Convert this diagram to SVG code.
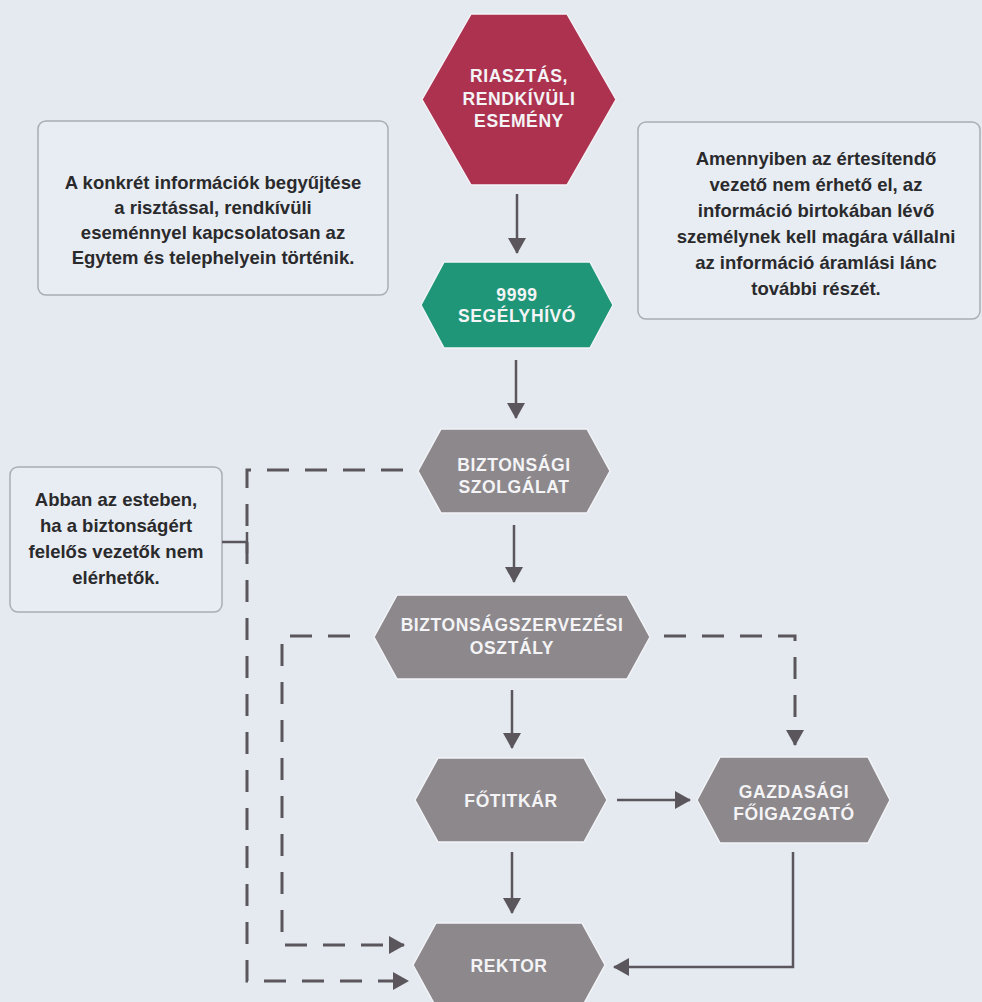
<svg xmlns="http://www.w3.org/2000/svg" width="982" height="1002" viewBox="0 0 982 1002">
<defs>
<style>
.bg{fill:#e5eaf1}
.box{fill:#e8edf3;stroke:#a8adb4;stroke-width:1.5}
.btxt{font-family:"Liberation Sans",Arial,sans-serif;font-weight:bold;font-size:18.5px;fill:#2a2a2c;text-anchor:middle}
.ntxt{font-family:"Liberation Sans",Arial,sans-serif;font-weight:bold;font-size:17.5px;fill:#f4f4f6;text-anchor:middle;letter-spacing:0.6px}
.hex{stroke:#f2f4f7;stroke-width:1.5;stroke-linejoin:round}
.red{fill:#ad3250}
.green{fill:#1f9677}
.gray{fill:#8c888c}
.solid{fill:none;stroke:#5a565b;stroke-width:2.5}
.dash{fill:none;stroke:#5a565b;stroke-width:3;stroke-dasharray:22 16}
</style>
<marker id="ah" markerUnits="userSpaceOnUse" markerWidth="18" markerHeight="18" viewBox="0 0 16 18" refX="15" refY="9" orient="auto">
<path d="M0,0 L16,9 L0,18 Z" fill="#5a565b"/>
</marker>
</defs>
<rect class="bg" x="0" y="0" width="982" height="1002"/>

<g id="note-left-top">
<rect class="box" x="38" y="121" width="350" height="174" rx="8"/>
<text class="btxt" x="213" y="189">A konkrét információk begyűjtése</text>
<text class="btxt" x="213" y="214">a risztással, rendkívüli</text>
<text class="btxt" x="213" y="239">eseménnyel kapcsolatosan az</text>
<text class="btxt" x="213" y="264">Egytem és telephelyein történik.</text>
</g>

<g id="note-right-top">
<rect class="box" x="638" y="122" width="342" height="197" rx="8"/>
<text class="btxt" x="816" y="165">Amennyiben az értesítendő</text>
<text class="btxt" x="816" y="191">vezető nem érhető el, az</text>
<text class="btxt" x="816" y="217">információ birtokában lévő</text>
<text class="btxt" x="816" y="243">személynek kell magára vállalni</text>
<text class="btxt" x="816" y="269">az információ áramlási lánc</text>
<text class="btxt" x="816" y="295">további részét.</text>
</g>

<g id="note-left">
<rect class="box" x="10" y="467" width="212" height="145" rx="8"/>
<text class="btxt" x="116" y="506">Abban az esteben,</text>
<text class="btxt" x="116" y="532">ha a biztonságért</text>
<text class="btxt" x="116" y="558">felelős vezetők nem</text>
<text class="btxt" x="116" y="584">elérhetők.</text>
</g>

<g id="connectors">
<path class="solid" d="M517,194 V253" marker-end="url(#ah)"/>
<path class="solid" d="M516,360 V418" marker-end="url(#ah)"/>
<path class="solid" d="M514,525 V582" marker-end="url(#ah)"/>
<path class="solid" d="M512,690 V748" marker-end="url(#ah)"/>
<path class="solid" d="M617,800 H690" marker-end="url(#ah)"/>
<path class="solid" d="M512,852 V913" marker-end="url(#ah)"/>
<path class="solid" d="M793,852 V967 H614" marker-end="url(#ah)"/>
<path class="dash" d="M403,470 H247 V981 H408" marker-end="url(#ah)"/>
<path class="dash" d="M350,636 H282 V945 H404" marker-end="url(#ah)"/>
<path class="dash" d="M664,636 H795 V745" marker-end="url(#ah)"/>
<path class="solid" d="M222,542 H247 M247,532 V553"/>
</g>

<g id="node-riasztas">
<polygon class="hex red" points="422,99.5 471,14 567,14 616,99.5 567,185 471,185"/>
<text class="ntxt" x="519" y="82">RIASZTÁS,</text>
<text class="ntxt" x="519" y="105">RENDKÍVÜLI</text>
<text class="ntxt" x="519" y="127">ESEMÉNY</text>
</g>

<g id="node-9999">
<polygon class="hex green" points="421,305 444,262 590,262 613,305 590,348 444,348"/>
<text class="ntxt" x="517" y="301">9999</text>
<text class="ntxt" x="517" y="322">SEGÉLYHÍVÓ</text>
</g>

<g id="node-biztonsagi-szolgalat">
<polygon class="hex gray" points="418,471 441,429 587,429 610,471 587,513 441,513"/>
<text class="ntxt" x="514" y="471">BIZTONSÁGI</text>
<text class="ntxt" x="514" y="493">SZOLGÁLAT</text>
</g>

<g id="node-biztonsagszervezesi">
<polygon class="hex gray" points="374,637 397,595 627,595 650,637 627,679 397,679"/>
<text class="ntxt" x="512" y="631">BIZTONSÁGSZERVEZÉSI</text>
<text class="ntxt" x="512" y="654">OSZTÁLY</text>
</g>

<g id="node-fotitkar">
<polygon class="hex gray" points="415,800 438,758 584,758 607,800 584,842 438,842"/>
<text class="ntxt" x="511" y="807">FŐTITKÁR</text>
</g>

<g id="node-gazdasagi">
<polygon class="hex gray" points="697,800 720,757 868,757 890,800 868,843 720,843"/>
<text class="ntxt" x="794" y="798">GAZDASÁGI</text>
<text class="ntxt" x="794" y="820">FŐIGAZGATÓ</text>
</g>

<g id="node-rektor">
<polygon class="hex gray" points="413,965 436,923 582,923 605,965 582,1007 436,1007"/>
<text class="ntxt" x="509" y="972">REKTOR</text>
</g>
</svg>
